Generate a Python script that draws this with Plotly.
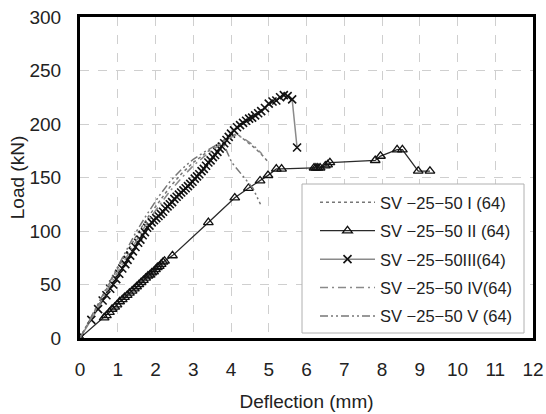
import plotly.graph_objects as go

# ---- data ----
names = ["SV −25−50 I (64)", "SV −25−50 II (64)", "SV −25−50III(64)",
         "SV −25−50 IV(64)", "SV −25−50 V (64)"]

s1_x = [0, 0.30, 0.60, 0.90, 1.20, 1.50, 1.80, 2.10, 2.40, 2.70, 3.00, 3.30, 3.60, 3.90, 4.15, 4.40, 4.65, 4.85, 5.00]
s1_y = [0, 19, 39, 59, 78, 96, 113, 128, 142, 154, 164, 172, 180, 187, 191, 184, 177, 170, 164]

s2_x = [0, 0.64, 0.70, 0.78, 0.85, 0.92, 0.98, 1.05, 1.12, 1.18, 1.25, 1.31, 1.38, 1.44, 1.50,
        1.56, 1.62, 1.68, 1.74, 1.80, 1.85, 1.90, 1.95, 2.00, 2.05, 2.10, 2.15, 2.20, 2.24,
        2.45, 3.40, 4.10, 4.46, 4.77, 4.98, 5.20, 5.34, 6.20, 6.25, 6.30, 6.36, 6.50, 6.56,
        6.62, 7.82, 7.96, 8.40, 8.54, 8.96, 9.27]
s2_y = [0, 19, 21, 24, 27, 29, 31, 34, 36, 38, 40, 42, 44, 46, 48,
        50, 52, 54, 56, 58, 59, 61, 62, 64, 66, 67, 69, 71, 72,
        77, 108, 131, 140, 147, 152, 158, 158, 159, 159, 159, 159, 161, 162,
        164, 166, 170, 176, 176, 156, 156]

s3_x = [0, 0.30, 0.48, 0.60, 0.70, 0.80, 0.88, 0.96, 1.04, 1.12, 1.20, 1.26, 1.33, 1.40, 1.47,
        1.54, 1.60, 1.66, 1.72, 1.78, 1.84, 1.90, 1.96, 2.02, 2.08, 2.14, 2.20, 2.26, 2.32,
        2.38, 2.44, 2.50, 2.56, 2.62, 2.68, 2.74, 2.80, 2.86, 2.92, 2.98, 3.04, 3.10, 3.16,
        3.22, 3.28, 3.34, 3.40, 3.46, 3.52, 3.58, 3.64, 3.70, 3.76, 3.82, 3.88, 3.94, 4.00,
        4.08, 4.16, 4.24, 4.32, 4.40, 4.48, 4.56, 4.64, 4.72, 4.80, 4.90, 5.00, 5.10, 5.20,
        5.30, 5.40, 5.50, 5.62, 5.75]
s3_y = [0, 17, 27, 35, 40, 46, 50, 55, 60, 65, 69, 73, 77, 81, 85,
        89, 92, 96, 99, 103, 105, 108, 110, 112, 114, 116, 118, 121, 123,
        125, 127, 130, 132, 134, 136, 138, 140, 142, 144, 146, 149, 151, 153,
        156, 158, 161, 164, 166, 169, 171, 174, 177, 179, 182, 185, 188, 191,
        194, 197, 199, 201, 203, 205, 206, 208, 210, 212, 215, 219, 221, 222,
        225, 227, 226, 223, 178]

s4_x = [0, 0.30, 0.60, 0.90, 1.20, 1.50, 1.80, 2.10, 2.40, 2.70, 3.00, 3.30, 3.60, 3.90, 4.15, 4.40, 4.60, 4.82]
s4_y = [0, 18, 37, 56, 74, 92, 109, 124, 138, 150, 161, 170, 178, 186, 190, 185, 180, 172]

s5_x = [0, 0.30, 0.60, 0.90, 1.20, 1.50, 1.80, 2.10, 2.40, 2.70, 3.00, 3.30, 3.60, 3.82, 4.02, 4.20, 4.40, 4.58, 4.78]
s5_y = [0, 20, 41, 61, 81, 100, 117, 133, 147, 158, 167, 174, 180, 180, 164, 156, 148, 140, 125]

x_ticks = list(range(0, 13))
y_ticks = [0, 50, 100, 150, 200, 250, 300]

FONT = "Liberation Sans, Arial, sans-serif"

fig = go.Figure()
fig.add_trace(go.Scatter(x=s1_x, y=s1_y, mode="lines", name=names[0], legendgroup="a",
                         line=dict(color="#777777", width=1.5, dash="dot")))
fig.add_trace(go.Scatter(x=s2_x, y=s2_y, mode="lines+markers", name=names[1], legendgroup="b",
                         line=dict(color="#2a2a2a", width=1.3),
                         marker=dict(symbol="triangle-up-open", size=8.5, color="#111111",
                                     line=dict(width=1.3))))
fig.add_trace(go.Scatter(x=s3_x, y=s3_y, mode="lines+markers", name=names[2], legendgroup="c",
                         line=dict(color="#8a8a8a", width=1.5),
                         marker=dict(symbol="x-thin", size=8, color="#111111",
                                     line=dict(width=1.6, color="#111111"))))
fig.add_trace(go.Scatter(x=s4_x, y=s4_y, mode="lines", name=names[3], legendgroup="d",
                         line=dict(color="#8a8a8a", width=1.5, dash="8px,4px,2px,4px")))
fig.add_trace(go.Scatter(x=s5_x, y=s5_y, mode="lines", name=names[4], legendgroup="e",
                         line=dict(color="#777777", width=1.5, dash="8px,3px,2px,3px,2px,3px")))

axis_common = dict(showline=True, linecolor="black", linewidth=3, mirror=True,
                   showgrid=True, gridcolor="#cfcfcf", griddash="dash", gridwidth=1,
                   zeroline=False, ticks="",
                   tickfont=dict(family=FONT, size=19, color="#222222"))

fig.update_xaxes(range=[0, 12], tickvals=x_ticks, ticktext=[str(v) for v in x_ticks],
                 title=dict(text="Deflection (mm)", font=dict(family=FONT, size=19, color="#222222"),
                            standoff=16),
                 ticklabelstandoff=12, **axis_common)
fig.update_yaxes(range=[0, 300], tickvals=y_ticks, ticktext=[str(v) for v in y_ticks],
                 title=dict(text="Load (kN)", font=dict(family=FONT, size=19, color="#222222"),
                            standoff=0),
                 ticklabelstandoff=12, **axis_common)

# legend frame (drawn as a box in plot-area paper coordinates)
fig.add_shape(type="rect", xref="paper", yref="paper",
              x0=(302 - 80) / 453, x1=(524 - 80) / 453,
              y0=(338 - 333) / 321, y1=(338 - 184) / 321,
              line=dict(color="#b0b0b0", width=1), fillcolor="white", layer="above")

fig.update_layout(
    width=546, height=414,
    margin=dict(l=80, r=13, t=17, b=76, autoexpand=False),
    paper_bgcolor="white", plot_bgcolor="white",
    showlegend=True,
    legend=dict(x=(315 - 80) / 453, y=(338 - 185) / 321, xanchor="left", yanchor="top",
                bgcolor="rgba(0,0,0,0)", borderwidth=0,
                font=dict(family=FONT, size=16.5, color="#222222"),
                itemwidth=55, tracegroupgap=4),
)

fig.write_html("out.html")
